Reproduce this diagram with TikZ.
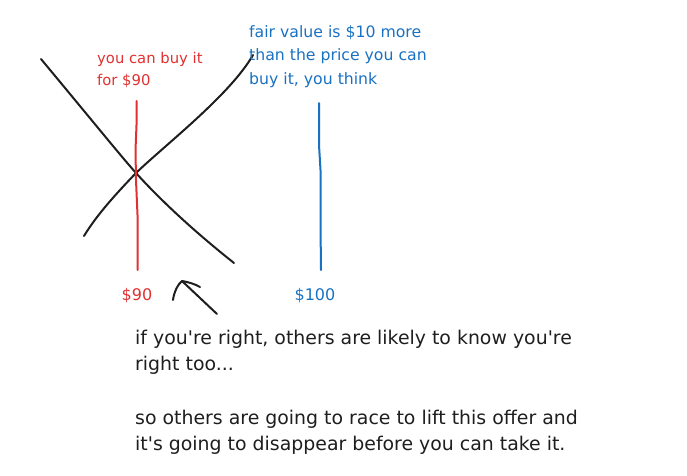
\documentclass[tikz,border=0pt]{standalone}
\usepackage{fontspec}
\setmainfont{DejaVu Sans}
\definecolor{exred}{HTML}{E03131}
\definecolor{exblue}{HTML}{1971C2}
\definecolor{exblack}{HTML}{1E1E1E}
\newcommand{\ap}{\textquotesingle}
\begin{document}
\begin{tikzpicture}[x=1pt,y=-1pt,
  stroke/.style={line width=2pt,line cap=round,line join=round},
  lbl/.style={inner sep=0pt,anchor=base west},
  redtxt/.style={lbl,font=\fontsize{14.8}{17}\selectfont,text=exred},
  bluetxt/.style={lbl,font=\fontsize{15.7}{18}\selectfont,text=exblue},
  pricetxt/.style={inner sep=0pt,anchor=base,font=\fontsize{16}{18}\selectfont},
  big/.style={lbl,font=\fontsize{18.9}{22}\selectfont,text=exblack}]
\useasboundingbox (0,0) rectangle (687,475);
% crossing lines
\coordinate (d1) at (41,59);
\coordinate (dm) at (136,173);
\coordinate (d2) at (234,263);
\coordinate (u1) at (84,236);
\coordinate (u2) at (253,55);
\draw[stroke,exblack] (d1) .. controls (100,130) and (120,155) .. (dm) .. controls (165,205) and (200,236) .. (d2);
\draw[stroke,exblack] (u1) .. controls (95,218) and (110,200) .. (dm) .. controls (165,145) and (230,95) .. (u2);
% price lines
\coordinate (r1) at (136.7,101);
\coordinate (r2) at (137.7,270);
\coordinate (b1) at (319,103);
\coordinate (b2) at (321,270);
\draw[stroke,exred] (r1) -- (136.5,125) -- (135.5,150) -- (136,180) -- (137.5,215) -- (r2);
\draw[stroke,exblue] (b1) -- (319,145) -- (320.5,170) -- (320.5,225) -- (b2);
% labels
\node[redtxt] (red1) at (97,63) {you can buy it};
\node[redtxt] (red2) at (97,85) {for \$90};
\node[bluetxt] (blue1) at (249,37) {fair value is \$10 more};
\node[bluetxt] (blue2) at (249,60) {than the price you can};
\node[bluetxt] (blue3) at (249,84) {buy it, you think};
\node[pricetxt,text=exred] (p90) at (137,300) {\$90};
\node[pricetxt,text=exblue] (p100) at (315,300) {\$100};
% arrow
\coordinate (at) at (217,314);
\coordinate (ah) at (182,281);
\coordinate (ab1) at (173,300);
\coordinate (ab2) at (200,287);
\draw[stroke,exblack] (at) -- (ah);
\draw[stroke,exblack] (ab1) .. controls (174,292) and (178,284) .. (ah) .. controls (188,282) and (195,284) .. (ab2);
% bottom text
\node[big] (note1) at (135,344) {if you\ap re right, others are likely to know you\ap re};
\node[big] (note2) at (135,370) {right too...};
\node[big] (note3) at (135,424) {so others are going to race to lift this offer and};
\node[big] (note4) at (135,450) {it\ap s going to disappear before you can take it.};
\end{tikzpicture}
\end{document}
